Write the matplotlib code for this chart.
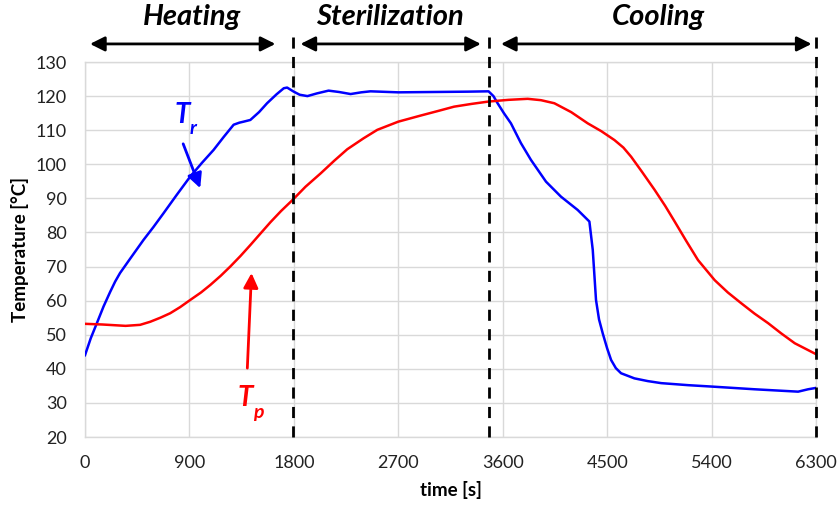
import matplotlib
matplotlib.use("Agg")
import matplotlib.pyplot as plt

plt.rcParams['font.family'] = ['Lato', 'DejaVu Sans']

# Reactor temperature Tr
t_r = [0, 50, 100, 160, 216, 260, 302, 389, 504, 590, 676, 790, 907, 1010, 1108, 1195, 1281, 1330, 1367,
       1425, 1500, 1569, 1650, 1713, 1742, 1799, 1850, 1917, 2000, 2099, 2190, 2289, 2380, 2461, 2700,
       3000, 3300, 3478, 3520, 3556, 3610, 3671, 3757, 3843, 3973, 4102, 4246, 4347, 4376, 4404, 4430,
       4462, 4500, 4534, 4575, 4620, 4735, 4850, 4966, 5200, 5398, 5770, 6146, 6232, 6300]
T_r = [44, 49, 53.2, 58.3, 62.5, 65.6, 68.1, 72.3, 77.8, 81.6, 85.6, 91.0, 96.4, 100.5, 104.2, 108.0, 111.6,
       112.2, 112.5, 113.0, 115.3, 117.9, 120.5, 122.3, 122.5, 121.3, 120.4, 120.0, 120.8, 121.6, 121.2,
       120.6, 121.1, 121.4, 121.1, 121.2, 121.3, 121.4, 120.0, 117.9, 115.0, 112.0, 106.2, 101.3, 94.9,
       90.5, 86.6, 83.2, 74.9, 60.2, 54.5, 50.4, 46.0, 42.6, 40.2, 38.7, 37.2, 36.4, 35.8, 35.2, 34.8,
       34.0, 33.3, 34.0, 34.4]

# Product temperature Tp
t_p = [0, 150, 350, 475, 562, 650, 734, 820, 907, 1000, 1080, 1170, 1252, 1340, 1425, 1510, 1598,
       1690, 1788, 1900, 2030, 2150, 2260, 2400, 2519, 2700, 2894, 3050, 3181, 3330, 3478, 3650, 3815,
       3930, 4045, 4190, 4333, 4450, 4563, 4640, 4707, 4800, 4909, 5000, 5082, 5180, 5283, 5427, 5540,
       5657, 5770, 5887, 6000, 6117, 6300]
T_p = [53.2, 53.0, 52.6, 52.9, 53.8, 55.0, 56.3, 58.1, 60.2, 62.4, 64.6, 67.3, 70.0, 73.1, 76.3, 79.6,
       83.0, 86.3, 89.5, 93.4, 97.3, 101.1, 104.4, 107.6, 110.1, 112.5, 114.3, 115.7, 116.9, 117.7,
       118.4, 118.9, 119.2, 118.8, 117.9, 115.3, 112.0, 109.7, 107.1, 104.9, 102.2, 97.8, 92.5, 87.8,
       83.2, 77.6, 71.9, 66.0, 62.4, 59.2, 56.2, 53.4, 50.4, 47.5, 44.3]

phase_names = ["Heating", "Sterilization", "Cooling"]
phase_text_x = [924, 2626, 4941]
phase_arrows = [(43, 1641), (1857, 3412), (3585, 6262)]
phase_bounds = [1790, 3478, 6300]

x_ticks = [0, 900, 1800, 2700, 3600, 4500, 5400, 6300]
y_ticks = list(range(20, 131, 10))

fig = plt.figure(figsize=(8.4, 5.05), dpi=100)
ax = fig.add_axes([85/840, 68/505, 731/840, 375/505])

ax.plot(t_r, T_r, color='#0000ff', lw=1.8, zorder=3)
ax.plot(t_p, T_p, color='#ff0000', lw=1.8, zorder=3)

ax.set_xlim(0, 6300)
ax.set_ylim(20, 130)
ax.set_xticks(x_ticks)
ax.set_yticks(y_ticks)
ax.grid(True, color='#d9d9d9', lw=1.0)
ax.set_axisbelow(True)
for s in ax.spines.values():
    s.set_color('#d9d9d9')
    s.set_linewidth(1.0)
ax.tick_params(length=0, labelsize=13, colors='#222222', pad=13)
ax.set_xlabel("time [s]", fontsize=13.5, fontweight='bold', labelpad=7)
ax.set_ylabel("Temperature [°C]", fontsize=13.5, fontweight='bold', labelpad=5)

for xb in phase_bounds:
    ax.plot([xb, xb], [20, 139.4], color='black', lw=2.0, ls=(0, (4, 3)), clip_on=False, zorder=4)

for name, xt, (a0, a1) in zip(phase_names, phase_text_x, phase_arrows):
    ax.annotate("", xy=(a0, 135.3), xytext=(a1, 135.3), annotation_clip=False,
                arrowprops=dict(arrowstyle='<|-|>', color='black', lw=2.0, mutation_scale=22,
                                shrinkA=0, shrinkB=0))
    ax.text(xt, 143.2, name, fontsize=21, fontweight='bold', fontstyle='italic',
            ha='center', va='center', clip_on=False)

ax.text(840, 114.5, "T", color='#0000ff', fontsize=20, fontweight='bold', fontstyle='italic',
        ha='center', va='center')
ax.text(935, 110.5, "r", color='#0000ff', fontsize=14, fontweight='bold', fontstyle='italic',
        ha='center', va='center')
ax.annotate("", xy=(993, 93.0), xytext=(846, 106.0),
            arrowprops=dict(arrowstyle='-|>', color='#0000ff', lw=2.0, mutation_scale=22,
                            shrinkA=0, shrinkB=0))

ax.text(1380, 31.4, "T", color='#ff0000', fontsize=20, fontweight='bold', fontstyle='italic',
        ha='center', va='center')
ax.text(1495, 27.3, "p", color='#ff0000', fontsize=14, fontweight='bold', fontstyle='italic',
        ha='center', va='center')
ax.annotate("", xy=(1435, 68.1), xytext=(1399, 40.2),
            arrowprops=dict(arrowstyle='-|>', color='#ff0000', lw=2.0, mutation_scale=22,
                            shrinkA=0, shrinkB=0))

fig.savefig("out.png", dpi=100)
